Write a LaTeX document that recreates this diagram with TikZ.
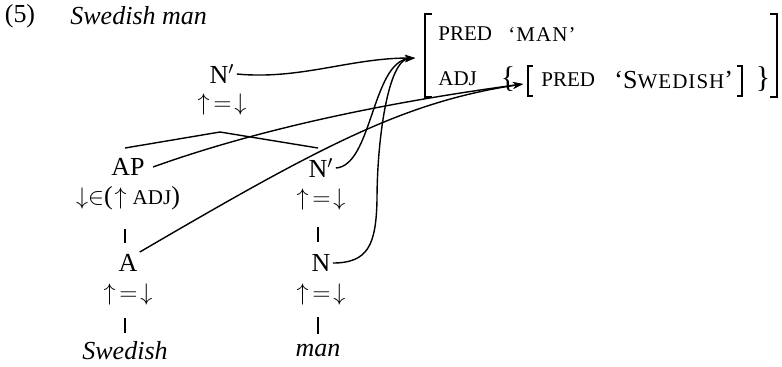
\documentclass[tikz,border=0pt]{standalone}
\usepackage{fontspec}
\setmainfont{Liberation Serif}
\usetikzlibrary{arrows.meta}
\newcommand{\fsc}[1]{{\fontsize{10.5}{11}\selectfont #1}}
\newcommand{\fscw}[1]{{\fontsize{10.5}{11}\selectfont\addfontfeature{LetterSpace=5}#1}}
\newcommand{\ueqd}{$\uparrow\kern-1.5pt{=}\kern-2pt\downarrow$}
\begin{document}
\begin{tikzpicture}[x=0.5pt,y=-0.5pt,font=\fontsize{13}{15}\selectfont,
  lbl/.style={inner sep=1pt},
  conn/.style={line width=0.7pt},
  arr/.style={conn,-{Stealth[length=5pt,width=3.4pt]}},
  brk/.style={line width=0.9pt}]
\useasboundingbox (0,0) rectangle (782,366);
% title
\node[lbl] (num) at (20,16) {(5)};
\node[lbl,anchor=west] (title) at (68,16) {\textit{Swedish man}};
% c-structure
\node[lbl] (nTop) at (222,74) {N$'$};
\node[lbl] (eqTop) at (222,104) {\ueqd};
\coordinate (peak) at (220,132);
\node[lbl] (ap) at (128,167) {AP};
\node[lbl] (apEq) at (128,198) {$\downarrow\in$(\kern1pt$\uparrow$\kern3pt\fsc{ADJ})};
\node[lbl] (a) at (128,263) {A};
\node[lbl] (aEq) at (128,294) {\ueqd};
\node[lbl] (sw) at (125,351) {\textit{Swedish}};
\node[lbl] (nMid) at (321,168) {N$'$};
\node[lbl] (nMidEq) at (321,199) {\ueqd};
\node[lbl] (n) at (321,263) {N};
\node[lbl] (nEq) at (321,294) {\ueqd};
\node[lbl] (man) at (318,350) {\textit{man}};
\coordinate (apTop) at (125,148);
\coordinate (nMidTop) at (318,148);
\draw[conn] (apTop) -- (peak) -- (nMidTop);
\draw[conn] (125,229) -- (125,243);
\draw[conn] (125,318) -- (125,333);
\draw[conn] (318,227) -- (318,242);
\draw[conn] (318,317) -- (318,334);
% f-structure
\coordinate (fsin) at (415,58);
\coordinate (setin) at (523,84);
\node[lbl,anchor=west] (fpred) at (436,34) {\fsc{PRED}};
\node[lbl,anchor=west] (fman) at (506,34) {\fscw{`MAN'}};
\node[lbl,anchor=west] (fadj) at (436,79) {\fsc{ADJ}};
\node[lbl] (lset) at (508,79) {\fontsize{15}{15}\selectfont\{};
\node[lbl,anchor=west] (ipred) at (539,80) {\fsc{PRED}};
\node[lbl,anchor=west] (isw) at (612,80) {`S\fscw{WEDISH}'};
\node[lbl] (rset) at (763,79) {\fontsize{15}{15}\selectfont\}};
\draw[brk] (432,14) -- (425,14) -- (425,97) -- (432,97);
\draw[brk] (770,14) -- (777,14) -- (777,97) -- (770,97);
\draw[brk] (533,66) -- (528,66) -- (528,96) -- (533,96);
\draw[brk] (737,66) -- (742,66) -- (742,96) -- (737,96);
% correspondences
\draw[arr] (nTop.east) .. controls (300,80) and (350,58) .. (fsin);
\draw[arr] (nMid.east) .. controls (372,166) and (372,62) .. (fsin);
\draw[arr] (n.east) .. controls (368,263) and (376,245) .. (377,200)
  .. controls (377,140) and (388,60) .. (fsin);
\draw[arr] ([xshift=3pt]ap.east) .. controls (270,125) and (404,100) .. (setin);
\draw[arr] (a.north east) .. controls (323,145) and (404,102) .. (setin);
\end{tikzpicture}
\end{document}
